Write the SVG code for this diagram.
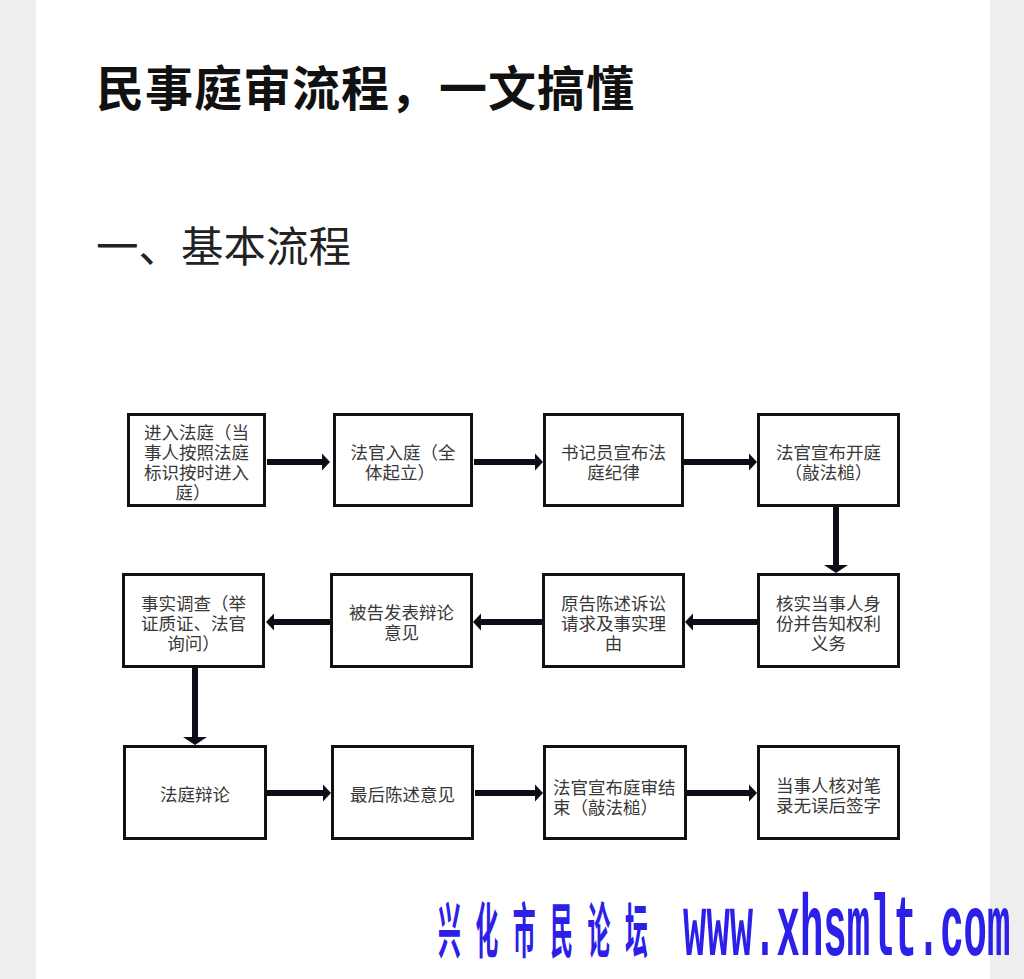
<svg xmlns="http://www.w3.org/2000/svg" width="1024" height="979" viewBox="0 0 1024 979">
<style>
.box{fill:#fff;stroke:#111;stroke-width:3}
.lbl{font-family:"Noto Sans CJK SC","Noto Sans",sans-serif;font-size:17.5px;fill:#383838;text-anchor:middle}
.lblL{font-family:"Noto Sans CJK SC","Noto Sans",sans-serif;font-size:17.5px;fill:#383838;text-anchor:start}
.ah{stroke:#0d0d18;stroke-width:6;fill:none}
.av{stroke:#0d0d18;stroke-width:6;fill:none}
</style>
<defs>
<marker id="mh" markerUnits="userSpaceOnUse" markerWidth="10" markerHeight="18" refX="1" refY="8.5" orient="auto" overflow="visible">
<path d="M0,0 L8,8.5 L0,17 Z" fill="#0d0d18"/>
</marker>
<marker id="mv" markerUnits="userSpaceOnUse" markerWidth="10" markerHeight="26" refX="1" refY="12" orient="auto" overflow="visible">
<path d="M0,0 L8,12 L0,24 Z" fill="#0d0d18"/>
</marker>
</defs>
<rect x="0" y="0" width="1024" height="979" fill="#eeeeee"/>
<rect x="36" y="0" width="954" height="979" fill="#ffffff"/>

<text x="96" y="106" font-family="'Noto Sans CJK SC',sans-serif" font-size="48" font-weight="700" letter-spacing="1" fill="#111">民事庭审流程，一文搞懂</text>
<text x="96" y="262" font-family="'Noto Sans CJK SC',sans-serif" font-size="42.5" font-weight="400" fill="#222">一、基本流程</text>

<g id="connectors">
<path class="ah" d="M267,462 H323" marker-end="url(#mh)"/>
<path class="ah" d="M474,462 H536" marker-end="url(#mh)"/>
<path class="ah" d="M684,462 H750" marker-end="url(#mh)"/>
<path class="av" d="M836,507 V566" marker-end="url(#mv)"/>
<path class="ah" d="M757,622 H692" marker-end="url(#mh)"/>
<path class="ah" d="M542,622 H480" marker-end="url(#mh)"/>
<path class="ah" d="M330,622 H273" marker-end="url(#mh)"/>
<path class="av" d="M195,668 V738" marker-end="url(#mv)"/>
<path class="ah" d="M267,793 H324" marker-end="url(#mh)"/>
<path class="ah" d="M475,793 H536" marker-end="url(#mh)"/>
<path class="ah" d="M687,793 H750" marker-end="url(#mh)"/>
</g>

<g id="n1"><rect class="box" x="128.5" y="414.5" width="136" height="91"/>
<text class="lbl"><tspan x="196.5" y="438.5">进入法庭（当</tspan><tspan x="196.5" y="458.5">事人按照法庭</tspan><tspan x="196.5" y="478.5">标识按时进入</tspan><tspan x="193" y="498.5">庭）</tspan></text></g>
<g id="n2"><rect class="box" x="334.5" y="414.5" width="137" height="91"/>
<text class="lbl"><tspan x="403" y="458.5">法官入庭（全</tspan><tspan x="400" y="478.5">体起立）</tspan></text></g>
<g id="n3"><rect class="box" x="544.5" y="414.5" width="138" height="91"/>
<text class="lbl"><tspan x="613.5" y="458.5">书记员宣布法</tspan><tspan x="613.5" y="478.5">庭纪律</tspan></text></g>
<g id="n4"><rect class="box" x="758.5" y="414.5" width="140" height="91"/>
<text class="lbl"><tspan x="828.5" y="458.5">法官宣布开庭</tspan><tspan x="828.5" y="478.5">（敲法槌）</tspan></text></g>

<g id="n5"><rect class="box" x="758.5" y="574.5" width="140" height="92"/>
<text class="lbl"><tspan x="828.5" y="609.5">核实当事人身</tspan><tspan x="828.5" y="629.5">份并告知权利</tspan><tspan x="828.5" y="649.5">义务</tspan></text></g>
<g id="n6"><rect class="box" x="543.5" y="574.5" width="140" height="92"/>
<text class="lbl"><tspan x="613.5" y="609.5">原告陈述诉讼</tspan><tspan x="613.5" y="629.5">请求及事实理</tspan><tspan x="613.5" y="649.5">由</tspan></text></g>
<g id="n7"><rect class="box" x="331.5" y="574.5" width="140" height="92"/>
<text class="lbl"><tspan x="401.5" y="618.5">被告发表辩论</tspan><tspan x="401.5" y="638.5">意见</tspan></text></g>
<g id="n8"><rect class="box" x="123.5" y="574.5" width="140" height="92"/>
<text class="lbl"><tspan x="193.5" y="609.5">事实调查（举</tspan><tspan x="193.5" y="629.5">证质证、法官</tspan><tspan x="193.5" y="649.5">询问）</tspan></text></g>

<g id="n9"><rect class="box" x="124.5" y="746.5" width="141" height="92"/>
<text class="lbl"><tspan x="195" y="801">法庭辩论</tspan></text></g>
<g id="n10"><rect class="box" x="332.5" y="746.5" width="140" height="92"/>
<text class="lbl"><tspan x="402.5" y="801">最后陈述意见</tspan></text></g>
<g id="n11"><rect class="box" x="544.5" y="746.5" width="141" height="92"/>
<text class="lblL"><tspan x="553" y="794">法官宣布庭审结</tspan><tspan x="553" y="814">束（敲法槌）</tspan></text></g>
<g id="n12"><rect class="box" x="758.5" y="746.5" width="140" height="92"/>
<text class="lbl"><tspan x="828.5" y="792">当事人核对笔</tspan><tspan x="828.5" y="812">录无误后签字</tspan></text></g>

<g id="watermark" fill="#2c20e8">
<text transform="translate(438,953) scale(0.38,1)" font-family="'Noto Sans CJK SC',sans-serif" font-size="60" font-weight="700" letter-spacing="38.4">兴化市民论坛</text>
<text transform="translate(683,955) scale(0.448,1)" font-family="'Liberation Mono',monospace" font-size="87" font-weight="700">www.xhsmlt.com</text>
</g>
</svg>
